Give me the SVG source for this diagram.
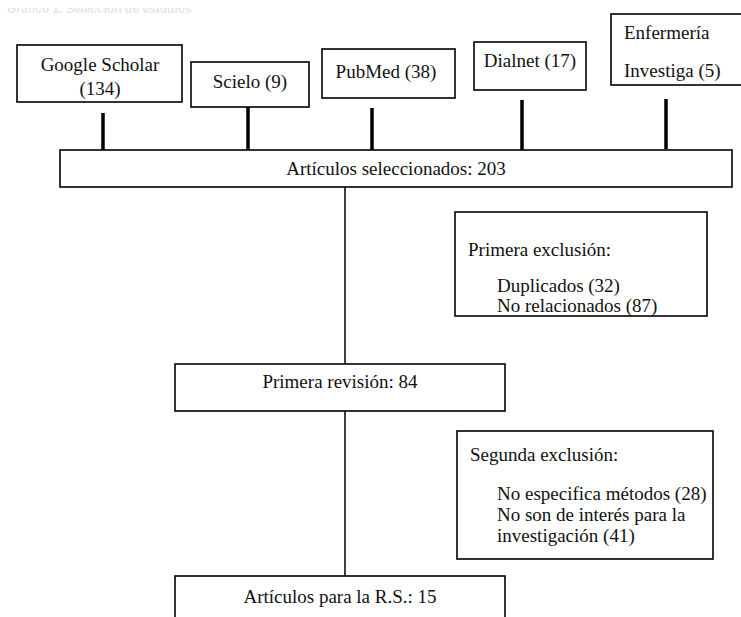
<svg xmlns="http://www.w3.org/2000/svg" width="741" height="617" viewBox="0 0 741 617">
<style>
.box{fill:#fff;stroke:#000;stroke-width:1.6}
.t{font-family:"Liberation Serif","Times New Roman",serif;font-size:19px;fill:#111}
.c{text-anchor:middle}
.thick{stroke:#000;stroke-width:3.5;fill:none}
.thin{stroke:#000;stroke-width:1.5;fill:none}
.title{font-family:"Liberation Sans",Arial,sans-serif;font-size:12px;font-weight:bold;fill:#e6e6e6}
</style>
<defs>
<clipPath id="cut"><rect x="0" y="8" width="741" height="10"/></clipPath>
</defs>
<rect width="741" height="617" fill="#fff"/>
<text class="title" x="7" y="13" clip-path="url(#cut)">Gráfico 1. Selección de estudios</text>
<g id="connectors">
<line class="thick" x1="103" y1="113" x2="103" y2="150"/>
<line class="thick" x1="248" y1="107" x2="248" y2="150"/>
<line class="thick" x1="372" y1="108" x2="372" y2="150"/>
<line class="thick" x1="522" y1="100" x2="522" y2="150"/>
<line class="thick" x1="666" y1="99" x2="666" y2="149"/>
<line class="thin" x1="345" y1="187" x2="345" y2="364"/>
<line class="thin" x1="345" y1="411" x2="345" y2="576"/>
</g>
<g id="google">
<rect class="box" x="17" y="45" width="165" height="57"/>
<text class="t c" x="100" y="71">Google Scholar</text>
<text class="t c" x="100" y="95">(134)</text>
</g>
<g id="scielo">
<rect class="box" x="191" y="62" width="118" height="45"/>
<text class="t c" x="250" y="88">Scielo (9)</text>
</g>
<g id="pubmed">
<rect class="box" x="322" y="49" width="133" height="49"/>
<text class="t c" x="386" y="78">PubMed (38)</text>
</g>
<g id="dialnet">
<rect class="box" x="474" y="42" width="112" height="48"/>
<text class="t c" x="530" y="67">Dialnet (17)</text>
</g>
<g id="enfermeria">
<rect class="box" x="611" y="14" width="134" height="71"/>
<text class="t" x="624" y="39">Enfermería</text>
<text class="t" x="624" y="77">Investiga (5)</text>
</g>
<g id="seleccionados">
<rect class="box" x="60" y="150" width="672" height="37"/>
<text class="t c" x="396" y="175">Artículos seleccionados: 203</text>
</g>
<g id="primera-exclusion">
<rect class="box" x="455" y="212" width="252" height="104"/>
<text class="t" x="468" y="256">Primera exclusión:</text>
<text class="t" x="497" y="292">Duplicados (32)</text>
<text class="t" x="497" y="312">No relacionados (87)</text>
</g>
<g id="primera-revision">
<rect class="box" x="175" y="364" width="330" height="47"/>
<text class="t c" x="340" y="388">Primera revisión: 84</text>
</g>
<g id="segunda-exclusion">
<rect class="box" x="457" y="431" width="256" height="128"/>
<text class="t" x="470" y="461">Segunda exclusión:</text>
<text class="t" x="497" y="500">No especifica métodos (28)</text>
<text class="t" x="497" y="521">No son de interés para la</text>
<text class="t" x="497" y="542">investigación (41)</text>
</g>
<g id="articulos-rs">
<rect class="box" x="175" y="576" width="330" height="60"/>
<text class="t c" x="340" y="603">Artículos para la R.S.: 15</text>
</g>
</svg>
